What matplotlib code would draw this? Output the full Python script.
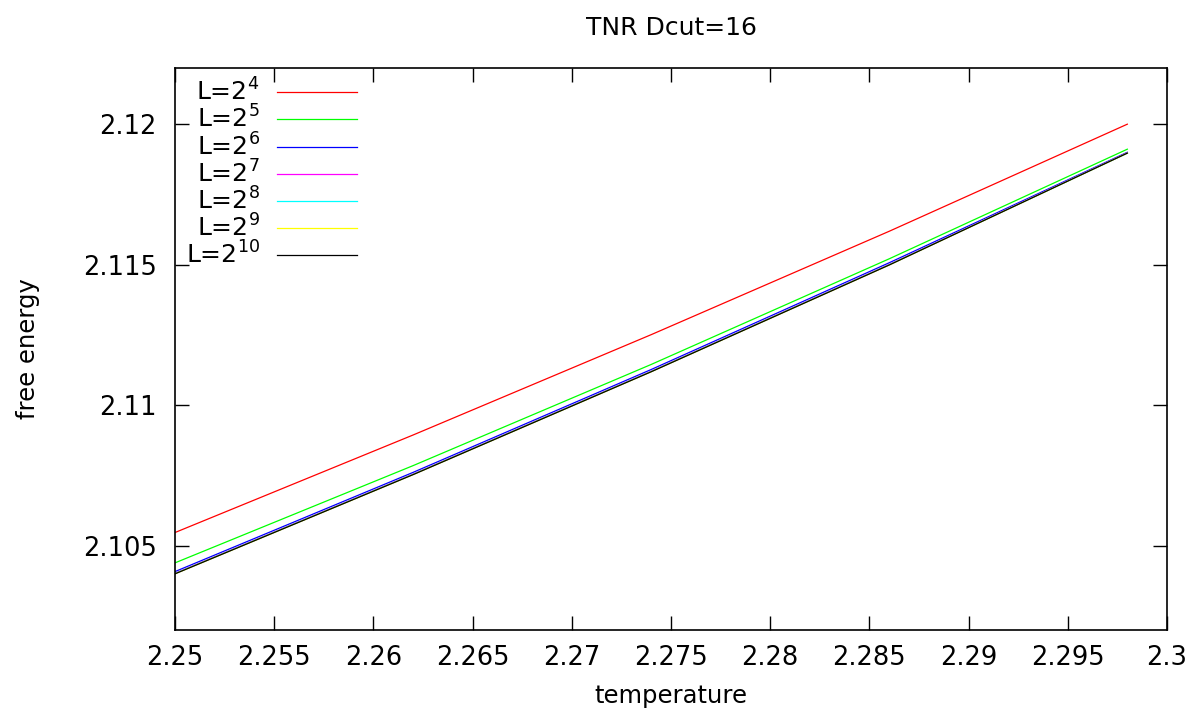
import matplotlib
matplotlib.use("Agg")
import matplotlib.pyplot as plt
from matplotlib.ticker import FormatStrFormatter, MultipleLocator

plt.rcParams['font.family'] = ['DejaVu Sans']
plt.rcParams['mathtext.fontset'] = 'dejavusans'

# data
temperature = [2.25, 2.262, 2.274, 2.286, 2.298]
f_L4 = [2.10547, 2.10894, 2.11251, 2.11619, 2.12000]
f_L5 = [2.10439, 2.10785, 2.11145, 2.11521, 2.11911]
f_L6 = [2.10408, 2.10761, 2.11127, 2.11507, 2.11900]
f_L7 = [2.10402, 2.10755, 2.11121, 2.11501, 2.11898]
f_L8 = [2.10401, 2.10754, 2.11120, 2.11500, 2.11897]
f_L9 = [2.10400, 2.10753, 2.11119, 2.11499, 2.11897]
f_L10 = [2.10400, 2.10753, 2.11119, 2.11499, 2.11897]
series = [f_L4, f_L5, f_L6, f_L7, f_L8, f_L9, f_L10]
exponents = [4, 5, 6, 7, 8, 9, 10]
colors = ['#ff0000', '#00ff00', '#0000ff', '#ff00ff', '#00ffff', '#ffff00', '#000000']

fig = plt.figure(figsize=(11.94, 7.11), dpi=100)
ax = fig.add_axes([0.1466, 0.1139, 0.9774 - 0.1466, 0.9044 - 0.1139])

for f, n, c in zip(series, exponents, colors):
    ax.plot(temperature, f, color=c, linewidth=0.9, label=r'L=2$^{%d}$' % n)

ax.set_xlim(2.25, 2.3)
ax.set_ylim(2.102, 2.122)
ax.xaxis.set_major_locator(MultipleLocator(0.005))
ax.yaxis.set_major_locator(MultipleLocator(0.005))
ax.xaxis.set_major_formatter(FormatStrFormatter('%g'))
ax.yaxis.set_major_formatter(FormatStrFormatter('%g'))
ax.tick_params(direction='in', length=10, width=1, top=True, right=True,
               labelsize=18.5, pad=13)
ax.tick_params(axis='x', pad=11)
for s in ax.spines.values():
    s.set_linewidth(1.2)

ax.set_xlabel('temperature', fontsize=17.5, labelpad=9)
ax.set_ylabel('free energy', fontsize=17.5, labelpad=31)
fig.text(0.562, 0.96, 'TNR Dcut=16', fontsize=18, ha='center', va='center')

ax.legend(loc='upper right', bbox_to_anchor=(0.1835, 0.981), frameon=False,
          markerfirst=False, fontsize=18, handlelength=3.2, labelspacing=0.0,
          handletextpad=0.7, borderaxespad=0.0, borderpad=0.0)

fig.savefig('out.png', dpi=100)
